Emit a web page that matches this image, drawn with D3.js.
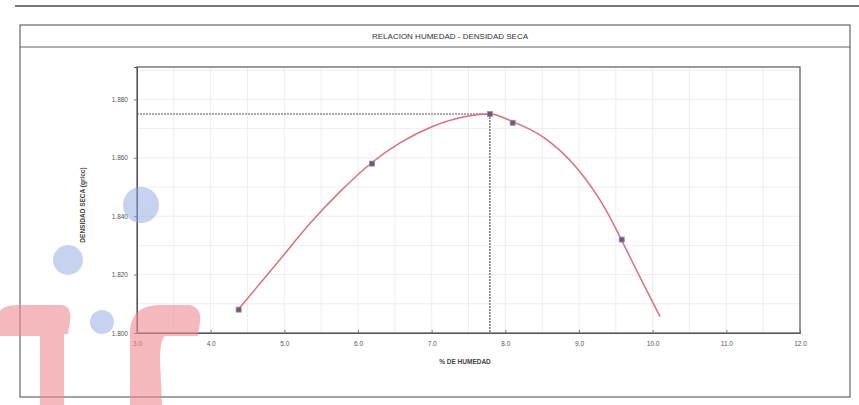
<!DOCTYPE html>
<html>
<head>
<meta charset="utf-8">
<script src="https://cdn.jsdelivr.net/npm/d3@7"></script>
<style>
  body { margin: 0; background: #fff; }
  text { font-family: "Liberation Sans", Arial, sans-serif; }
</style>
</head>
<body>
<div id="chart"></div>
<script>
// datos
const xTicks = [3, 4, 5, 6, 7, 8, 9, 10, 11, 12];
const yTicks = [1.800, 1.820, 1.840, 1.860, 1.880];
const humedad = [4.38, 6.19, 8.10, 9.58];          // puntos de ensayo
const densidad = [1.808, 1.858, 1.872, 1.832];
const optHumedad = 7.79;                            // optimo contenido de humedad
const maxDensidad = 1.875;                          // maxima densidad seca
// curva ajustada
const curvaX = [4.38, 4.90, 5.35, 5.76, 6.19, 6.57, 7.02, 7.48, 7.79, 8.10, 8.52, 8.97, 9.38, 9.58, 9.87, 10.10];
const curvaY = [1.8082, 1.8239, 1.8376, 1.8485, 1.8584, 1.8651, 1.8708, 1.8742, 1.8750, 1.8724, 1.8670, 1.8565, 1.8415, 1.8317, 1.8170, 1.8056];

const W = 859, H = 405;
const svg = d3.select('#chart').append('svg')
    .attr('width', W)
    .attr('height', H);

// marco del documento
svg.append('line').attr('x1', 15).attr('x2', W).attr('y1', 6).attr('y2', 6)
    .attr('stroke', '#777').attr('stroke-width', 2);
svg.append('rect').attr('x', 20).attr('y', 25).attr('width', 830).attr('height', 372)
    .attr('fill', 'none').attr('stroke', '#666').attr('stroke-width', 1.2);
svg.append('line').attr('x1', 20).attr('x2', 850).attr('y1', 47).attr('y2', 47)
    .attr('stroke', '#666').attr('stroke-width', 1.2);
svg.append('text').attr('x', 450).attr('y', 39).attr('text-anchor', 'middle')
    .attr('font-size', 8).attr('fill', '#333')
    .text('RELACION HUMEDAD - DENSIDAD SECA');

// area del grafico
const m = {left: 137, right: 800, top: 67, bottom: 333};
const x = d3.scaleLinear().domain([3, 12]).range([m.left, m.right]);
const y = d3.scaleLinear().domain([1.800, 1.8911]).range([m.bottom, m.top]);

// grilla
const g = svg.append('g');
g.selectAll('.gx').data(d3.range(3, 12.01, 0.5)).enter().append('line')
    .attr('x1', d => x(d)).attr('x2', d => x(d))
    .attr('y1', m.top).attr('y2', m.bottom)
    .attr('stroke', '#eaeaea').attr('stroke-width', 0.8);
g.selectAll('.gy').data(d3.range(1.800, 1.891, 0.010)).enter().append('line')
    .attr('x1', m.left).attr('x2', m.right)
    .attr('y1', d => y(d)).attr('y2', d => y(d))
    .attr('stroke', '#eaeaea').attr('stroke-width', 0.8);

svg.append('rect').attr('x', m.left).attr('y', m.top)
    .attr('width', m.right - m.left).attr('height', m.bottom - m.top)
    .attr('fill', 'none').attr('stroke', '#666').attr('stroke-width', 1.3);

// ejes
const xAxis = svg.append('g').attr('transform', 'translate(0,' + m.bottom + ')')
    .call(d3.axisBottom(x).tickValues(xTicks).tickFormat(d3.format('.1f')).tickSize(-3).tickPadding(8));
const yAxis = svg.append('g').attr('transform', 'translate(' + m.left + ',0)')
    .call(d3.axisLeft(y).tickValues(yTicks).tickFormat(d3.format('.3f')).tickSize(3).tickPadding(6));
[xAxis, yAxis].forEach(a => {
    a.select('.domain').attr('stroke', '#555');
    a.selectAll('.tick line').attr('stroke', '#777');
    a.selectAll('.tick text').attr('font-size', 6.5).attr('fill', '#555');
});

svg.append('text').attr('x', 465).attr('y', 364).attr('text-anchor', 'middle')
    .attr('font-size', 6.5).attr('font-weight', 'bold').attr('fill', '#444')
    .text('% DE HUMEDAD');
svg.append('text').attr('transform', 'translate(85,205) rotate(-90)')
    .attr('text-anchor', 'middle').attr('font-size', 6.5).attr('font-weight', 'bold').attr('fill', '#444')
    .text('DENSIDAD SECA (gr/cc)');

// lineas de optimo
svg.append('line').attr('x1', m.left).attr('x2', x(optHumedad))
    .attr('y1', y(maxDensidad)).attr('y2', y(maxDensidad))
    .attr('stroke', '#555').attr('stroke-width', 1.2).attr('stroke-dasharray', '2,1');
svg.append('line').attr('x1', x(optHumedad)).attr('x2', x(optHumedad))
    .attr('y1', y(maxDensidad)).attr('y2', m.bottom)
    .attr('stroke', '#555').attr('stroke-width', 1.2).attr('stroke-dasharray', '2,1');

// curva
const curva = curvaX.map((d, i) => [d, curvaY[i]]);
svg.append('path').datum(curva)
    .attr('fill', 'none').attr('stroke', '#d9707a').attr('stroke-width', 1.5)
    .attr('d', d3.line().x(d => x(d[0])).y(d => y(d[1])).curve(d3.curveMonotoneX));

// puntos
const puntos = humedad.map((d, i) => [d, densidad[i]]).concat([[optHumedad, maxDensidad]]);
svg.selectAll('.pt').data(puntos).enter().append('rect')
    .attr('x', d => x(d[0]) - 2.5).attr('y', d => y(d[1]) - 2.5)
    .attr('width', 5).attr('height', 5)
    .attr('fill', '#6a5a78').attr('stroke', '#9a8aa8').attr('stroke-width', 0.8);

// marcas de sello (manchas azules y logo rojo)
const manchas = [[141, 205, 18], [68, 260, 15], [102, 322, 12]];
svg.selectAll('.mancha').data(manchas).enter().append('circle')
    .attr('cx', d => d[0]).attr('cy', d => d[1]).attr('r', d => d[2])
    .attr('fill', '#8fa6e0').attr('opacity', 0.5);
const sello = svg.append('g').attr('fill', '#f08a92').attr('opacity', 0.6);
sello.append('path')
    .attr('d', 'M0,312 Q2,305 20,305 L62,305 Q72,306 70,322 L68,334 L64,334 L64,405 L40,405 L40,336 L0,336 Z');
sello.append('path')
    .attr('d', 'M130,405 L130,330 Q132,305 160,305 L190,305 Q202,308 200,322 L198,336 L165,336 Q160,340 160,360 L162,405 Z');
</script>
</body>
</html>
